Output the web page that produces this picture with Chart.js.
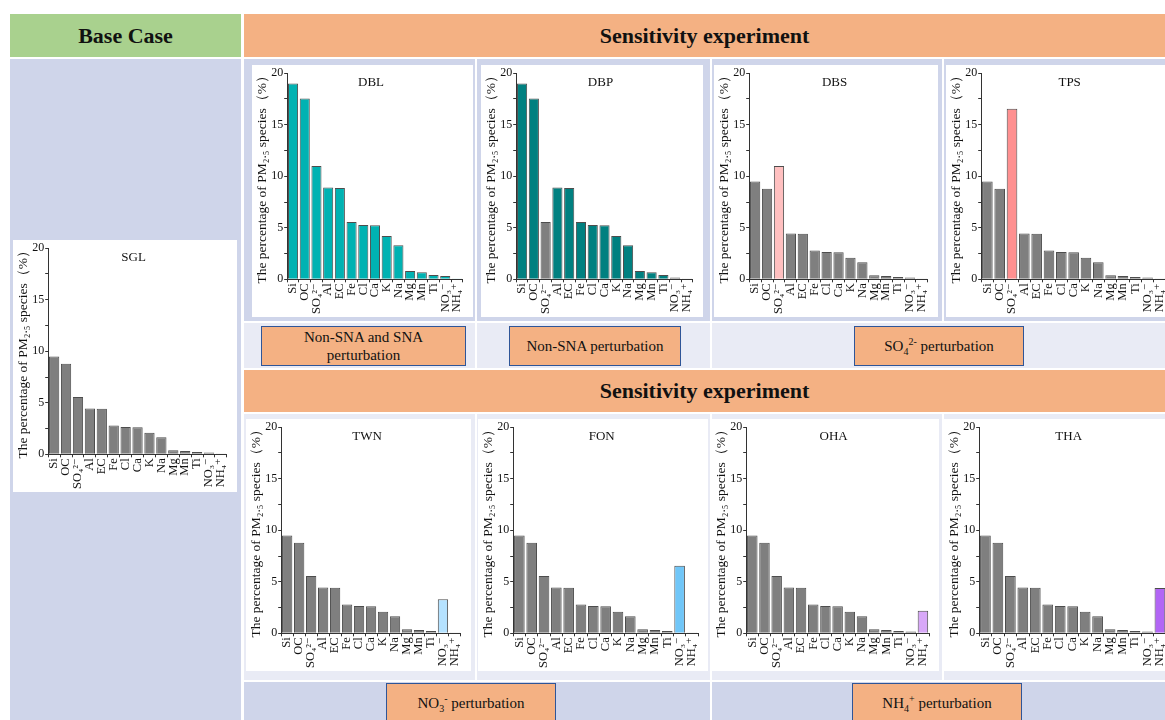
<!DOCTYPE html>
<html>
<head>
<meta charset="utf-8">
<script src="https://cdn.jsdelivr.net/npm/chart.js@4.4.1/dist/chart.umd.min.js"></script>
<style>
  html, body { margin: 0; padding: 0; background: #fff; }
  body { width: 1165px; height: 720px; overflow: hidden; position: relative; }
  div, span { font-family: "Liberation Serif", "Times New Roman", "DejaVu Serif", serif; }
  .blk { position: absolute; box-sizing: border-box; }
  .dark { background: #cfd5ea; }
  .light { background: #e9ebf5; }
  .head { display: flex; align-items: center; justify-content: center; font-weight: bold; font-size: 22px; color: #111; }
  .green { background: #a9d18e; }
  .orange { background: #f4b183; }
  .lab { position: absolute; box-sizing: border-box; background: #f4b183; border: 1px solid #2f5597;
         display: flex; align-items: center; justify-content: center; text-align: center;
         font-size: 15px; line-height: 18px; color: #111; }
  .lab sub, .lab sup { font-size: 10px; line-height: 0; }
  .box { position: absolute; background: #fff; }
  canvas { display: block; }
</style>
</head>
<body>
<!-- header row -->
<div class="blk head green" style="left:10px;top:14px;width:231px;height:43px;">Base Case</div>
<div class="blk head orange" style="left:244px;top:14px;width:921px;height:43px;">Sensitivity experiment</div>
<!-- left column -->
<div class="blk dark" style="left:10px;top:59px;width:231px;height:661px;"></div>
<!-- row of first charts -->
<div class="blk dark" style="left:244px;top:59px;width:231px;height:262px;"></div>
<div class="blk dark" style="left:477px;top:59px;width:233px;height:262px;"></div>
<div class="blk dark" style="left:712px;top:59px;width:230px;height:262px;"></div>
<div class="blk dark" style="left:944px;top:59px;width:221px;height:262px;"></div>
<!-- label row -->
<div class="blk light" style="left:244px;top:323px;width:231px;height:45px;"></div>
<div class="blk light" style="left:477px;top:323px;width:233px;height:45px;"></div>
<div class="blk light" style="left:712px;top:323px;width:453px;height:45px;"></div>
<!-- second header -->
<div class="blk head orange" style="left:244px;top:370px;width:921px;height:42px;">Sensitivity experiment</div>
<!-- row of second charts -->
<div class="blk light" style="left:244px;top:414px;width:231px;height:266px;"></div>
<div class="blk light" style="left:477px;top:414px;width:233px;height:266px;"></div>
<div class="blk light" style="left:712px;top:414px;width:230px;height:266px;"></div>
<div class="blk light" style="left:944px;top:414px;width:221px;height:266px;"></div>
<!-- bottom label row -->
<div class="blk dark" style="left:244px;top:682px;width:466px;height:38px;"></div>
<div class="blk dark" style="left:712px;top:682px;width:453px;height:38px;"></div>

<div class="lab" style="left:261px;top:326px;width:205px;height:40px;"><span>Non-SNA and SNA<br>perturbation</span></div>
<div class="lab" style="left:509px;top:326px;width:172px;height:40px;"><span>Non-SNA perturbation</span></div>
<div class="lab" style="left:854px;top:326px;width:170px;height:40px;"><span>SO<sub>4</sub><sup>2-</sup> perturbation</span></div>
<div class="lab" style="left:386px;top:683px;width:170px;height:40px;"><span>NO<sub>3</sub><sup>-</sup> perturbation</span></div>
<div class="lab" style="left:852px;top:683px;width:170px;height:40px;"><span>NH<sub>4</sub><sup>+</sup> perturbation</span></div>

<div class="box" style="left:13px;top:240px;"><canvas id="cSGL" width="224" height="252"></canvas></div>
<div class="box" style="left:252px;top:65px;"><canvas id="cDBL" width="221" height="252"></canvas></div>
<div class="box" style="left:481px;top:65px;"><canvas id="cDBP" width="222" height="252"></canvas></div>
<div class="box" style="left:714px;top:65px;"><canvas id="cDBS" width="224" height="252"></canvas></div>
<div class="box" style="left:946px;top:65px;"><canvas id="cTPS" width="230" height="252"></canvas></div>
<div class="box" style="left:246px;top:419px;"><canvas id="cTWN" width="225" height="252"></canvas></div>
<div class="box" style="left:478px;top:419px;"><canvas id="cFON" width="230" height="252"></canvas></div>
<div class="box" style="left:711px;top:419px;"><canvas id="cOHA" width="228" height="252"></canvas></div>
<div class="box" style="left:944px;top:419px;"><canvas id="cTHA" width="232" height="252"></canvas></div>

<script>
// species on the x axis
var species = ['Si', 'OC', 'SO\u2084\u00B2\u207B', 'Al', 'EC', 'Fe', 'Cl', 'Ca', 'K', 'Na', 'Mg', 'Mn', 'Ti', 'NO\u2083\u207B', 'NH\u2084\u207A'];
var y_ticks = [0, 5, 10, 15, 20];

// percentages (%)
var SGL = [9.5, 8.8, 5.55, 4.45, 4.42, 2.8, 2.65, 2.62, 2.1, 1.65, 0.4, 0.33, 0.22, 0.17, 0.02];
var DBL = [19.0, 17.55, 11.0, 8.9, 8.85, 5.55, 5.28, 5.25, 4.2, 3.3, 0.8, 0.68, 0.42, 0.33, 0.03];
var DBP = [19.0, 17.55, 5.55, 8.9, 8.85, 5.55, 5.28, 5.25, 4.2, 3.3, 0.8, 0.68, 0.42, 0.17, 0.02];
var DBS = [9.5, 8.8, 11.0, 4.45, 4.42, 2.8, 2.65, 2.62, 2.1, 1.65, 0.4, 0.33, 0.22, 0.17, 0.02];
var TPS = [9.5, 8.8, 16.55, 4.45, 4.42, 2.8, 2.65, 2.62, 2.1, 1.65, 0.4, 0.33, 0.22, 0.17, 0.02];
var TWN = [9.5, 8.8, 5.55, 4.45, 4.42, 2.8, 2.65, 2.62, 2.1, 1.65, 0.4, 0.33, 0.22, 3.3, 0.02];
var FON = [9.5, 8.8, 5.55, 4.45, 4.42, 2.8, 2.65, 2.62, 2.1, 1.65, 0.4, 0.33, 0.22, 6.55, 0.02];
var OHA = [9.5, 8.8, 5.55, 4.45, 4.42, 2.8, 2.65, 2.62, 2.1, 1.65, 0.4, 0.33, 0.22, 0.17, 2.2];
var THA = [9.5, 8.8, 5.55, 4.45, 4.42, 2.8, 2.65, 2.62, 2.1, 1.65, 0.4, 0.33, 0.22, 0.17, 4.4];

var gray = '#7f7f7f';
var font_family = "'Liberation Serif', 'Times New Roman', 'DejaVu Serif', serif";

// colour for each bar: base colour, with some species picked out
function bar_colors(base, picked, clr) {
  return species.map(function(s, i) {
    return picked.indexOf(i) >= 0 ? clr : base;
  });
}

var panelName = {
  id: 'panelName',
  afterDraw: function(chart, args, opts) {
    var ctx = chart.ctx;
    var a = chart.chartArea;
    ctx.save();
    ctx.fillStyle = '#111';
    ctx.font = '13px ' + font_family;
    ctx.textAlign = 'center';
    ctx.textBaseline = 'middle';
    ctx.fillText(opts.text, (a.left + a.right) / 2 - 4, a.top + 9);
    ctx.restore();
  }
};

function add_bar_chart(id, name, vals, colors) {
  var ctx = document.getElementById(id);
  return new Chart(ctx, {
    type: 'bar',
    data: {
      labels: species,
      datasets: [{
        data: vals,
        backgroundColor: colors,
        borderColor: '#4d4d4d',
        borderWidth: 1,
        barPercentage: 0.86,
        categoryPercentage: 1.0
      }]
    },
    options: {
      responsive: false,
      animation: false,
      layout: { padding: { top: 8, right: 2, left: 2, bottom: 2 } },
      plugins: {
        legend: { display: false },
        tooltip: { enabled: false },
        panelName: { text: name }
      },
      scales: {
        x: {
          border: { color: '#333', width: 1 },
          grid: { drawOnChartArea: false, drawTicks: true, tickLength: 3, color: '#333' },
          ticks: {
            autoSkip: false,
            minRotation: 90,
            maxRotation: 90,
            padding: 1,
            color: '#111',
            font: { family: font_family, size: 12.5 }
          }
        },
        y: {
          min: 0,
          max: 20,
          border: { color: '#333', width: 1 },
          grid: { drawOnChartArea: false, drawTicks: true, tickLength: 3, color: '#333' },
          ticks: {
            stepSize: 2.5,
            autoSkip: false,
            padding: 1,
            color: '#111',
            font: { family: font_family, size: 12 },
            callback: function(v) { return y_ticks.indexOf(v) >= 0 ? v : ''; }
          },
          title: {
            display: true,
            text: 'The percentage of PM\u2082.\u2085 species\uFF08%\uFF09',
            color: '#111',
            padding: { top: 0, bottom: 0 },
            font: { family: font_family, size: 13.5 }
          }
        }
      }
    },
    plugins: [panelName]
  });
}

add_bar_chart('cSGL', 'SGL', SGL, bar_colors(gray, [], gray));
add_bar_chart('cDBL', 'DBL', DBL, bar_colors('#00b2b2', [], '#00b2b2'));
add_bar_chart('cDBP', 'DBP', DBP, bar_colors('#008080', [2, 13, 14], gray));
add_bar_chart('cDBS', 'DBS', DBS, bar_colors(gray, [2], '#ffc0c0'));
add_bar_chart('cTPS', 'TPS', TPS, bar_colors(gray, [2], '#ff9090'));
add_bar_chart('cTWN', 'TWN', TWN, bar_colors(gray, [13], '#b5e2ff'));
add_bar_chart('cFON', 'FON', FON, bar_colors(gray, [13], '#70c6f8'));
add_bar_chart('cOHA', 'OHA', OHA, bar_colors(gray, [14], '#d8a8f8'));
add_bar_chart('cTHA', 'THA', THA, bar_colors(gray, [14], '#b266f5'));
</script>
</body>
</html>
